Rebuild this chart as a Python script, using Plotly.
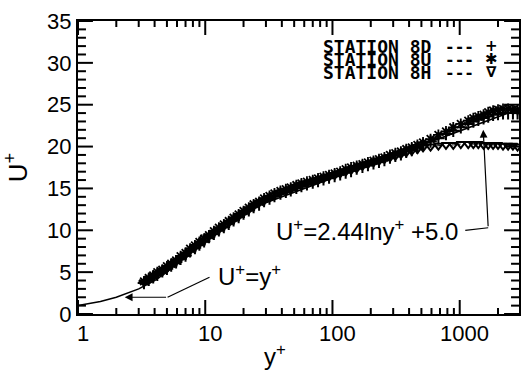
import numpy as np
import plotly.graph_objects as go

# ---- data ----
yplus = [3.3, 3.6, 3.9, 4.2, 4.6, 5.0, 5.4, 5.9, 6.4, 7.0,
         7.6, 8.3, 9.0, 9.8, 10.7, 11.7, 12.8, 14.0, 15.3, 16.7,
         18.3, 20.0, 22.0, 24.0, 26.5, 29.0, 32.0, 35.0, 39.0, 43.0,
         47.0, 52.0, 57.0, 63.0, 70.0, 77.0, 85.0, 94.0, 104, 115,
         127, 140, 155, 172, 190, 210, 232, 256, 283, 312,
         345, 380, 420, 465, 515, 590, 680, 780, 890, 1020,
         1167, 1280, 1400, 1540, 1675, 1830, 2000, 2190, 2400, 2620,
         2850]

u_8d = [3.7, 4.1, 4.4, 4.7, 5.1, 5.4, 5.8, 6.2, 6.6, 7.0,
        7.5, 7.9, 8.3, 8.7, 9.2, 9.6, 10.0, 10.4, 10.8, 11.2,
        11.6, 12.0, 12.4, 12.8, 13.1, 13.5, 13.8, 14.1, 14.4, 14.6,
        14.8, 15.1, 15.3, 15.5, 15.7, 15.9, 16.1, 16.3, 16.5, 16.7,
        16.9, 17.1, 17.4, 17.6, 17.8, 18.0, 18.2, 18.4, 18.7, 18.9,
        19.1, 19.4, 19.6, 19.9, 20.2, 20.6, 21.0, 21.5, 21.9, 22.3,
        22.7, 23.0, 23.2, 23.4, 23.6, 23.8, 23.9, 24.0, 24.0, 24.0,
        24.0]

u_8u = [3.9, 4.3, 4.6, 5.0, 5.3, 5.7, 6.0, 6.4, 6.9, 7.3,
        7.8, 8.2, 8.6, 9.0, 9.4, 9.9, 10.3, 10.7, 11.1, 11.5,
        11.9, 12.3, 12.7, 13.1, 13.4, 13.8, 14.1, 14.4, 14.7, 14.9,
        15.1, 15.4, 15.6, 15.8, 16.0, 16.2, 16.4, 16.6, 16.8, 17.0,
        17.3, 17.5, 17.7, 17.9, 18.1, 18.3, 18.5, 18.7, 19.0, 19.2,
        19.4, 19.7, 19.9, 20.2, 20.5, 20.9, 21.4, 21.8, 22.3, 22.7,
        23.1, 23.4, 23.6, 23.8, 24.1, 24.3, 24.4, 24.5, 24.5, 24.4,
        24.4]

u_8h = [3.8, 4.2, 4.5, 4.8, 5.2, 5.5, 5.9, 6.3, 6.7, 7.1,
        7.6, 8.0, 8.4, 8.8, 9.3, 9.7, 10.1, 10.5, 10.9, 11.3,
        11.7, 12.1, 12.5, 12.9, 13.3, 13.6, 13.9, 14.2, 14.5, 14.7,
        14.9, 15.2, 15.4, 15.6, 15.8, 16.0, 16.2, 16.4, 16.6, 16.8,
        17.0, 17.2, 17.4, 17.7, 17.9, 18.1, 18.3, 18.5, 18.7, 18.9,
        19.1, 19.3, 19.5, 19.7, 19.9, 20.0, 20.1, 20.2, 20.2, 20.3,
        20.3, 20.3, 20.3, 20.2, 20.2, 20.2, 20.2, 20.1, 20.1, 20.1,
        20.0]

# wall-law reference lines
lin_y = [1.0, 1.5, 2.0, 3.0, 4.0, 5.0, 6.0, 7.0, 8.0, 9.5]
lin_u = [1.0, 1.5, 2.0, 3.0, 4.0, 5.0, 6.0, 7.0, 8.0, 9.5]
log_y = [20.0, 2940.0]
log_u = [12.31, 24.49]

x_ticks = [1, 10, 100, 1000]
x_ticklabels = ["1", "10", "100", "1000"]
x_minor = [m * d for d in (1, 10, 100, 1000) for m in range(2, 10)]
y_major = [0, 5, 10, 15, 20, 25, 30, 35]
y_minor = [v for v in range(1, 35) if v % 5 != 0]

legend_names = ["STATION 8D", "STATION 8U", "STATION 8H"]
legend_syms = ["+", "✱", "∇"]

FONT = "Liberation Sans, Arial, sans-serif"
MONO = "DejaVu Sans Mono"

# plot geometry (pixels) used to turn tick lengths into axis units
PLOT_W, PLOT_H = 443, 293
XR = [0, 3.466]
YR = [0, 35]
px_per_dec = PLOT_W / (XR[1] - XR[0])
px_per_u = PLOT_H / (YR[1] - YR[0])

fig = go.Figure()

fig.add_trace(go.Scatter(x=lin_y, y=lin_u, mode="lines",
                         line=dict(color="black", width=1.5), hoverinfo="skip"))
fig.add_trace(go.Scatter(x=log_y, y=log_u, mode="lines",
                         line=dict(color="black", width=1.5), hoverinfo="skip"))

common_line = dict(color="black", width=1, dash="dash")
fig.add_trace(go.Scatter(x=yplus, y=u_8d, mode="lines+markers", name=legend_names[0],
                         line=common_line,
                         marker=dict(symbol="cross-thin-open", size=9, color="black",
                                     line=dict(color="black", width=2))))
fig.add_trace(go.Scatter(x=yplus, y=u_8u, mode="lines+markers", name=legend_names[1],
                         line=common_line,
                         marker=dict(symbol="asterisk-open", size=9, color="black",
                                     line=dict(color="black", width=1.8))))
fig.add_trace(go.Scatter(x=yplus, y=u_8h, mode="lines+markers", name=legend_names[2],
                         line=common_line,
                         marker=dict(symbol="triangle-down-open", size=8, color="black",
                                     line=dict(color="black", width=2))))

# leader lines of the law labels
lead1_x = [10.8, 5.06]
lead1_y = [4.4, 2.0]
lead2_x = [1106, 1675]
lead2_y = [10.0, 10.3]
fig.add_trace(go.Scatter(x=lead1_x, y=lead1_y, mode="lines",
                         line=dict(color="black", width=1.2), hoverinfo="skip"))
fig.add_trace(go.Scatter(x=lead2_x, y=lead2_y, mode="lines",
                         line=dict(color="black", width=1.2), hoverinfo="skip"))


# inside tick marks on all four sides, built from the tick value lists
def x_tick_segments(vals, length_px):
    dy = length_px / px_per_u
    xs, ys = [], []
    for v in vals:
        if v > 10 ** XR[1]:
            continue
        xs += [v, v, None, v, v, None]
        ys += [YR[0], YR[0] + dy, None, YR[1], YR[1] - dy, None]
    return xs, ys


def y_tick_segments(vals, length_px):
    dd = length_px / px_per_dec
    xl0, xl1 = 10 ** XR[0], 10 ** (XR[0] + dd)
    xr0, xr1 = 10 ** XR[1], 10 ** (XR[1] - dd)
    xs, ys = [], []
    for v in vals:
        xs += [xl0, xl1, None, xr0, xr1, None]
        ys += [v, v, None, v, v, None]
    return xs, ys


for (xs, ys) in (x_tick_segments(x_ticks, 14), x_tick_segments(x_minor, 6),
                 y_tick_segments(y_major, 15), y_tick_segments(y_minor, 8)):
    fig.add_trace(go.Scatter(x=xs, y=ys, mode="lines", line=dict(color="black", width=2),
                             hoverinfo="skip", connectgaps=False))

L = np.log10
annotations = [
    dict(x=L(2.33), y=2.0, ax=L(5.06), ay=2.0, xref="x", yref="y", axref="x", ayref="y",
         text="", showarrow=True, arrowhead=2, arrowsize=1.3, arrowwidth=1.2, arrowcolor="black"),
    dict(x=L(1530), y=22.0, ax=L(1675), ay=10.3, xref="x", yref="y", axref="x", ayref="y",
         text="", showarrow=True, arrowhead=2, arrowsize=1.3, arrowwidth=1.2, arrowcolor="black"),
    dict(x=L(22.2), y=4.66, xref="x", yref="y", showarrow=False,
         text="U<sup>+</sup>=y<sup>+</sup>", font=dict(family=FONT, size=24, color="black")),
    dict(x=L(186), y=10.0, xref="x", yref="y", showarrow=False,
         text="U<sup>+</sup>=2.44lny<sup>+</sup> +5.0", font=dict(family=FONT, size=24, color="black")),
    dict(x=(276 - 78) / 443, y=(314 - 372) / 293, xref="paper", yref="paper",
         yanchor="bottom", showarrow=False,
         text="y<sup>+</sup>", font=dict(family=FONT, size=24, color="black")),
]

for v, t in zip(x_ticks, x_ticklabels):
    annotations.append(dict(x=L(v), y=0, xref="x", yref="paper", yanchor="top",
                            xshift=5, yshift=-5, showarrow=False, text=t,
                            font=dict(family=FONT, size=22, color="black")))

row_py = [46, 59, 72]
for name, sym, py in zip(legend_names, legend_syms, row_py):
    yy = (314 - py) / 293
    annotations.append(dict(x=(322 - 78) / 443, y=yy, xref="paper", yref="paper",
                            xanchor="left", yanchor="middle", showarrow=False, text="<b>%s</b>" % name,
                            font=dict(family=MONO, size=18, color="black")))
    annotations.append(dict(x=(461 - 78) / 443, y=yy, xref="paper", yref="paper",
                            xanchor="center", yanchor="middle", showarrow=False, text="<b>---</b>",
                            font=dict(family=MONO, size=16, color="black")))
    annotations.append(dict(x=(493 - 78) / 443, y=yy, xref="paper", yref="paper",
                            xanchor="center", yanchor="middle", showarrow=False, text="<b>%s</b>" % sym,
                            font=dict(family="DejaVu Sans", size=15, color="black")))

fig.update_layout(
    width=523, height=372,
    margin=dict(l=78, r=2, t=21, b=58),
    paper_bgcolor="white", plot_bgcolor="white",
    showlegend=False,
    annotations=annotations,
    xaxis=dict(type="log", range=XR, tickmode="array", tickvals=x_ticks, showticklabels=False,
               ticks="", showline=True, linewidth=2, linecolor="black", mirror=True,
               showgrid=False, zeroline=False),
    yaxis=dict(range=YR, tickmode="array", tickvals=y_major, ticks="",
               showline=True, linewidth=2, linecolor="black", mirror=True,
               showgrid=False, zeroline=False,
               tickfont=dict(family=FONT, size=22, color="black"),
               title=dict(text="U<sup>+</sup>", font=dict(family=FONT, size=26, color="black"), standoff=12)),
)

fig.write_html("out.html")
